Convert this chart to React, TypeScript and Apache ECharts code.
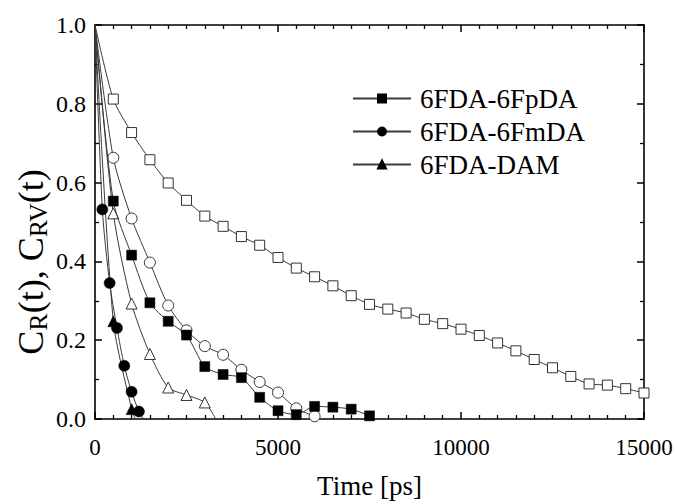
import React, { useEffect, useRef } from 'react';
import * as echarts from 'echarts';

// Time axis (ps)
const xTicks = [0, 5000, 10000, 15000];
const yTicks = [0.0, 0.2, 0.4, 0.6, 0.8, 1.0];

// 6FDA-6FpDA, C_R(t) (filled squares)
const fpdaT = [0, 500, 1000, 1500, 2000, 2500, 3000, 3500, 4000, 4500, 5000, 5500, 6000, 6500, 7000, 7500, 7650];
const fpdaR = [1.0, 0.553, 0.416, 0.295, 0.248, 0.213, 0.133, 0.113, 0.105, 0.055, 0.021, 0.011, 0.032, 0.030, 0.025, 0.008, 0];
// 6FDA-6FpDA, C_RV(t) (open squares)
const fpdaRVT = [0, 500, 1000, 1500, 2000, 2500, 3000, 3500, 4000, 4500, 5000, 5500, 6000, 6500, 7000, 7500, 8000, 8500, 9000, 9500, 10000, 10500, 11000, 11500, 12000, 12500, 13000, 13500, 14000, 14500, 15000];
const fpdaRV = [1.0, 0.812, 0.727, 0.658, 0.599, 0.555, 0.515, 0.489, 0.463, 0.441, 0.41, 0.383, 0.361, 0.338, 0.313, 0.291, 0.279, 0.269, 0.253, 0.242, 0.228, 0.212, 0.193, 0.173, 0.151, 0.130, 0.108, 0.089, 0.086, 0.077, 0.066];

// 6FDA-6FmDA, C_R(t) (filled circles)
const fmdaT = [0, 200, 400, 600, 800, 1000, 1200, 1320];
const fmdaR = [1.0, 0.532, 0.345, 0.231, 0.135, 0.069, 0.019, 0];
// 6FDA-6FmDA, C_RV(t) (open circles)
const fmdaRVT = [0, 500, 1000, 1500, 2000, 2500, 3000, 3500, 4000, 4500, 5000, 5500, 6000];
const fmdaRV = [1.0, 0.663, 0.509, 0.397, 0.288, 0.225, 0.185, 0.163, 0.125, 0.094, 0.067, 0.027, 0.007];

// 6FDA-DAM, C_R(t) (filled triangles)
const damT = [0, 500, 1000, 1100];
const damR = [1.0, 0.248, 0.025, 0];
// 6FDA-DAM, C_RV(t) (open triangles)
const damRVT = [0, 500, 1000, 1500, 2000, 2500, 3000, 3300];
const damRV = [1.0, 0.522, 0.293, 0.165, 0.08, 0.061, 0.042, 0];

const names = ['6FDA-6FpDA', '6FDA-6FmDA', '6FDA-DAM'];

const FONT = 'Liberation Serif';
const LINE = '#3a3a3a';

function pts(ts: number[], vs: number[]) {
  return ts.map((t, i) => {
    const v = vs[i];
    const hide = t === 0 || v === 0;
    return hide ? { value: [t, v], symbol: 'none' } : { value: [t, v] };
  });
}

function mkSeries(name: string, ts: number[], vs: number[], symbol: string, filled: boolean, size: number) {
  return {
    name,
    type: 'line',
    data: pts(ts, vs),
    symbol,
    symbolSize: size,
    smooth: 0.25,
    showAllSymbol: true,
    lineStyle: { color: LINE, width: 1 },
    itemStyle: filled
      ? { color: '#000', borderColor: '#000', borderWidth: 0.5 }
      : { color: '#fff', borderColor: '#333', borderWidth: 1 },
    z: filled ? 3 : 2,
  };
}

export default function App() {
  const ref = useRef<HTMLDivElement>(null);
  useEffect(() => {
    const chart = echarts.init(ref.current!, null, { renderer: 'svg' });
    const axisLine = { show: true, onZero: false, lineStyle: { color: '#000', width: 1.6 } };
    const xBase = {
      type: 'value',
      min: xTicks[0],
      max: xTicks[xTicks.length - 1],
      interval: 5000,
      axisLine,
      axisTick: { show: true, inside: true, length: 7, lineStyle: { color: '#000', width: 1.5 } },
      minorTick: { show: true, splitNumber: 10, length: 4, lineStyle: { color: '#000', width: 1.3 } },
      splitLine: { show: false },
      minorSplitLine: { show: false },
    };
    const yBase = {
      type: 'value',
      min: yTicks[0],
      max: yTicks[yTicks.length - 1],
      interval: 0.2,
      axisLine,
      axisTick: { show: true, inside: true, length: 7, lineStyle: { color: '#000', width: 1.5 } },
      minorTick: { show: true, splitNumber: 2, length: 4, lineStyle: { color: '#000', width: 1.3 } },
      splitLine: { show: false },
      minorSplitLine: { show: false },
    };
    chart.setOption({
      animation: false,
      backgroundColor: '#fff',
      grid: { left: 95, top: 25, width: 549, height: 401, containLabel: false },
      xAxis: [
        {
          ...xBase,
          position: 'bottom',
          axisLabel: { fontFamily: FONT, fontSize: 23, color: '#000', margin: 17, formatter: (v: number) => String(v) },
          name: 'Time [ps]',
          nameLocation: 'middle',
          nameGap: 53,
          nameTextStyle: { fontFamily: FONT, fontSize: 27, color: '#000' },
        },
        { ...xBase, position: 'top', axisLabel: { show: false } },
      ],
      yAxis: [
        {
          ...yBase,
          position: 'left',
          axisLabel: { fontFamily: FONT, fontSize: 24, color: '#000', margin: 9, formatter: (v: number) => v.toFixed(1) },
        },
        { ...yBase, position: 'right', axisLabel: { show: false } },
      ],
      legend: {
        data: names,
        orient: 'vertical',
        left: 347,
        top: 80,
        itemWidth: 58,
        itemHeight: 10,
        itemGap: 6,
        textStyle: { fontFamily: FONT, fontSize: 27, color: '#000', padding: [0, 0, 0, 4] },
      },
      graphic: [
        {
          type: 'text',
          x: 31,
          y: 262,
          rotation: Math.PI / 2,
          style: {
            text: '{a|C}{s|R}{a|(t), C}{s|RV}{a|(t)}',
            align: 'center',
            verticalAlign: 'middle',
            rich: {
              a: { fontSize: 36, fontFamily: FONT, fill: '#000', color: '#000', lineHeight: 40 },
              s: { fontSize: 26, fontFamily: FONT, fill: '#000', color: '#000', lineHeight: 25, verticalAlign: 'bottom' },
            },
          },
        },
      ],
      series: [
        mkSeries('6FDA-6FpDA (RV)', fpdaRVT, fpdaRV, 'rect', false, 10),
        mkSeries('6FDA-6FmDA (RV)', fmdaRVT, fmdaRV, 'circle', false, 11),
        mkSeries('6FDA-DAM (RV)', damRVT, damRV, 'triangle', false, 11),
        mkSeries(names[0], fpdaT, fpdaR, 'rect', true, 10),
        mkSeries(names[1], fmdaT, fmdaR, 'circle', true, 11),
        mkSeries(names[2], damT, damR, 'triangle', true, 11),
      ],
    });
    return () => chart.dispose();
  }, []);
  return <div ref={ref} style={{ position: 'absolute', left: 0, top: 0, width: 677, height: 504 }} />;
}
